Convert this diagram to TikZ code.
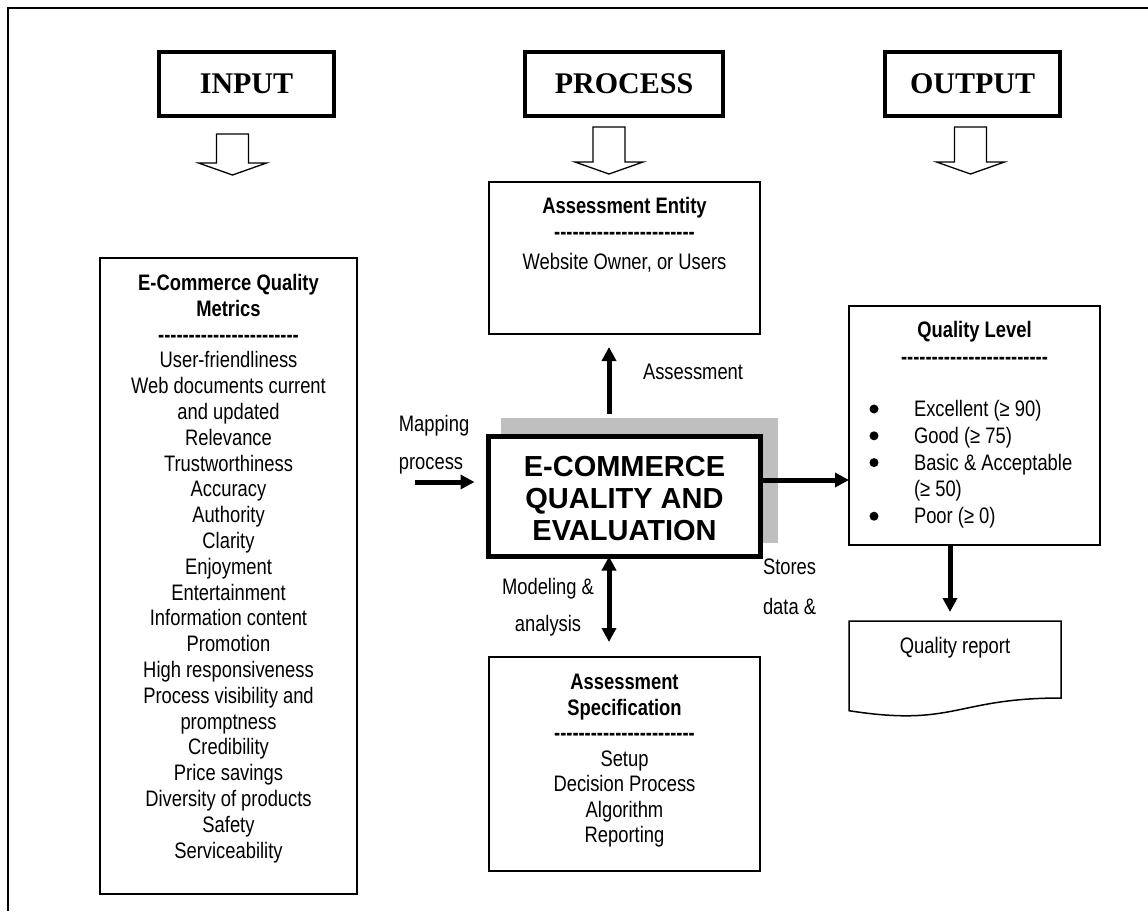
\documentclass[tikz,border=0pt]{standalone}
\usepackage{fontspec}
\setmainfont{Liberation Sans}
\newfontfamily\nf{Liberation Sans}[FakeStretch=0.82]
\newfontfamily\hf{Liberation Serif}
\usetikzlibrary{arrows.meta,calc}
% a row of separate bold hyphens used as a rule under titles
\newcommand\dashrow[1]{{\bfseries\foreach\k in {1,...,#1}{-}}}
\begin{document}
\begin{tikzpicture}[x=1pt,y=-1pt,
  every node/.style={inner sep=0pt, outer sep=0pt},
  >={Triangle[length=14pt,width=14pt]},
  bodytext/.style={font=\nf\fontsize{22.4}{25.8}\selectfont},
  qltext/.style={font=\nf\fontsize{22.4}{26.8}\selectfont},
  spectext/.style={font=\nf\fontsize{22.4}{25.5}\selectfont},
  labeltext/.style={font=\nf\fontsize{22.4}{26}\selectfont},
  thinbox/.style={draw, line width=1.5pt},
  headbox/.style={draw, line width=4pt, minimum height=64pt,
    font=\hf\bfseries\fontsize{30}{34}\selectfont},
  arr/.style={line width=5pt},
  listdot/.style={fill, circle, minimum size=9pt},
  hollow/.style={draw, line width=1.3pt, fill=white, line join=miter},
  pics/blockarrow/.style={code={
    \draw[hollow] (-16,0) -- (-16,#1) -- (-34,#1) -- (0,#1+12) -- (34,#1)
      -- (16,#1) -- (16,0) -- cycle;}}
]
\useasboundingbox (0,0) rectangle (1148,911);

% outer frame (top and left edges)
\draw[line width=2pt] (1148,8) -- (8,8) -- (8,911);

% column headings
\node[headbox, minimum width=175pt] (hin)  at (246.5,84) {INPUT};
\node[headbox, minimum width=198pt] (hpro) at (624,84)   {PROCESS};
\node[headbox, minimum width=175pt] (hout) at (972.5,84) {OUTPUT};
\pic at (232.5,134) {blockarrow=29};
\pic at (609,127)   {blockarrow=35};
\pic at (970.5,127) {blockarrow=35};

% input: quality metrics
\node[thinbox, minimum width=257pt, minimum height=636pt] (metrics) at (228.5,576) {};
\node[bodytext, anchor=base] (mtext) at (228.5,290.5) {\begin{tabular}[t]{@{}c@{}}
{\bfseries E-Commerce Quality}\\
{\bfseries Metrics}\\
\dashrow{23}\\
User-friendliness\\
Web documents current\\
and updated\\
Relevance\\
Trustworthiness\\
Accuracy\\
Authority\\
Clarity\\
Enjoyment\\
Entertainment\\
Information content\\
Promotion\\
High responsiveness\\
Process visibility and\\
promptness\\
Credibility\\
Price savings\\
Diversity of products\\
Safety\\
Serviceability
\end{tabular}};

% process: assessment entity
\node[thinbox, minimum width=271pt, minimum height=152pt] (ent) at (624.5,258) {};
\node[bodytext, anchor=base, font=\nf\bfseries\fontsize{22.4}{25.8}\selectfont] (enttitle) at (624.5,213) {Assessment Entity};
\node[bodytext, anchor=base] (entrule) at (624.5,239) {\dashrow{23}};
\node[bodytext, anchor=base] (entbody) at (624.5,269) {Website Owner, or Users};

% process: central box with its shadow
\node[fill=black!25, minimum width=277pt, minimum height=125pt] (shadow) at (639.5,480.5) {};
\node[draw, line width=5pt, fill=white, minimum width=272pt, minimum height=120pt] (main) at (624.5,496.5) {};
\node[align=center, font=\bfseries\fontsize{29}{32}\selectfont] (maintext) at (624.5,499)
  {E-COMMERCE\\QUALITY AND\\EVALUATION};

% process: assessment specification
\node[thinbox, minimum width=271pt, minimum height=214pt] (spec) at (624.5,764) {};
\node[spectext, anchor=base] (spectx) at (624.5,689.5) {\begin{tabular}[t]{@{}c@{}}
{\bfseries Assessment}\\
{\bfseries Specification}\\
\dashrow{23}\\
Setup\\
Decision Process\\
Algorithm\\
Reporting
\end{tabular}};

% output: quality level
\node[thinbox, minimum width=251pt, minimum height=239pt] (ql) at (974.5,425.5) {};
\node[qltext, anchor=base] (qltitle) at (974.5,337.5) {\begin{tabular}[t]{@{}c@{}}
{\bfseries Quality Level}\\
\dashrow{24}
\end{tabular}};
\node[qltext, anchor=base west] (qllist) at (914,416.5) {\begin{tabular}[t]{@{}l@{}}
Excellent (≥ 90)\\
Good (≥ 75)\\
Basic \& Acceptable\\
(≥ 50)\\
Poor (≥ 0)
\end{tabular}};
% list bullets
\node[listdot] (b1) at (874,409) {};
\node[listdot] (b2) at (874,435.8) {};
\node[listdot] (b3) at (874,462.6) {};
\node[listdot] (b4) at (874,516.2) {};

% output: quality report (document shape)
\node[minimum width=212pt, minimum height=96pt, anchor=north] (rep) at (955,621) {};
\draw[line width=1.5pt, line join=miter]
  (rep.north west) -- (rep.north east)
  -- ($(rep.north east)+(0,77)$)
  .. controls ($(rep.north)+(0,77)$) and ($(rep.north)+(0,106.3)$) .. ($(rep.north west)+(0,89.7)$)
  -- cycle;
\node[bodytext, anchor=base] (reptext) at (955,653.5) {Quality report};

% connectors
\coordinate (mapin) at (415,482);
\draw[arr,->,shorten >=14pt] (mapin) -- (main.west |- mapin);
\draw[arr,->,shorten <=4pt,shorten >=13pt] (shadow.north -| 609,0) -- (ent.south -| 609,0);
\draw[arr,<->,shorten >=15pt] (main.south -| 609,0) -- (spec.north -| 609,0);
\draw[arr,->] (main.east |- 0,480) -- (ql.west |- 0,480);
\draw[arr,->,shorten >=9pt] (ql.south -| 950,0) -- (rep.north -| 950,0);

% connector labels
\node[labeltext, anchor=base west] (lass) at (643,379.5) {Assessment};
\node[labeltext, anchor=base] (lmap1) at (434,431.5) {Mapping};
\node[labeltext, anchor=base] (lmap2) at (431,469.5) {process};
\node[labeltext, anchor=base] (lmod1) at (548,594) {Modeling \&};
\node[labeltext, anchor=base] (lmod2) at (548,631.5) {analysis};
\node[labeltext, anchor=base west] (lsto1) at (763,574.5) {Stores};
\node[labeltext, anchor=base west] (lsto2) at (763,614.5) {data \&};
\end{tikzpicture}
\end{document}
